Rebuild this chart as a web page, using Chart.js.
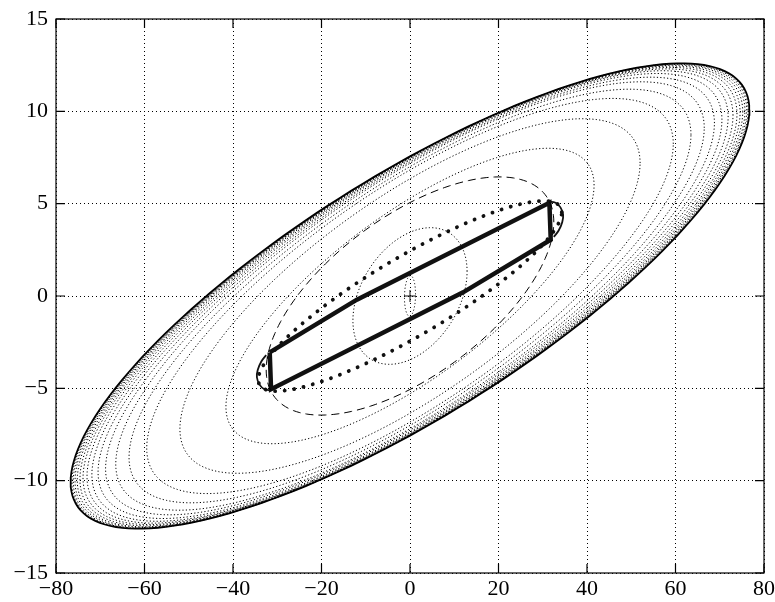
<!DOCTYPE html>
<html lang="en">
<head>
  <meta charset="UTF-8">
  <title>Ellipsoidal sets</title>
  <script src="https://cdn.jsdelivr.net/npm/chart.js"></script>
  <style>
    body { margin: 0; background: #fff; }
    #wrap { width: 775px; height: 602px; position: relative; }
  </style>
</head>
<body>
  <div id="wrap"><canvas id="setsChart"></canvas></div>

  <script>
    // axis ticks
    const xTickValues = [-80, -60, -40, -20, 0, 20, 40, 60, 80];
    const yTickValues = [-15, -10, -5, 0, 5, 10, 15];

    // nested dotted ellipses: half-width in x, half-height in y, correlation
    const dottedSx  = [1.25, 12.9, 41.6, 52, 59.5, 63.5, 66.5, 68.8, 70.5, 71.9, 73.0, 73.9, 74.6, 75.2, 75.7, 76.1, 76.4];
    const dottedSy  = [1.1, 3.7, 8.0, 9.6, 10.7, 11.2, 11.6, 11.85, 12.05, 12.2, 12.3, 12.38, 12.45, 12.5, 12.54, 12.57, 12.59];
    const dottedRho = [0.08, 0.36, 0.75, 0.75, 0.77, 0.78, 0.785, 0.79, 0.792, 0.794, 0.795, 0.796, 0.797, 0.798, 0.799, 0.8, 0.8];

    // limit ellipse (solid), dashed ellipse, heavy dotted ellipse
    const outerEllipse  = [76.7, 12.6, 0.8];
    const dashedEllipse = [32.5, 6.45, 0.62];
    const heavyEllipse  = [34.3, 5.15, 0.88];

    // heavy polygon
    const polyX = [-31.7, -12, 31.5, 31.8, 12, -31.4, -31.7];
    const polyY = [-3.05, -0.2, 5.05, 3.05, 0.2, -5.05, -3.05];

    // thin end arcs
    const rightArcX = [31.3, 32.9, 34.0, 34.6, 34.4, 33.6, 32.5];
    const rightArcY = [5.1, 5.05, 4.8, 4.4, 4.0, 3.55, 3.2];
    const leftArcX  = [-31.3, -32.9, -34.0, -34.6, -34.4, -33.6, -32.5];
    const leftArcY  = [-5.1, -5.05, -4.8, -4.4, -4.0, -3.55, -3.2];

    const centerMark = [{ x: 0, y: 0 }];

    function ellipsePoints(sx, sy, rho) {
      const pts = [];
      const k = Math.sqrt(1 - rho * rho);
      for (let i = 0; i <= 180; i++) {
        const t = i / 180 * 2 * Math.PI;
        pts.push({ x: sx * Math.cos(t), y: sy * (rho * Math.cos(t) + k * Math.sin(t)) });
      }
      return pts;
    }

    function zipXY(xs, ys) {
      return xs.map((x, i) => ({ x: x, y: ys[i] }));
    }

    const lineBase = { showLine: true, pointRadius: 0, fill: false, tension: 0 };

    const datasets = [];
    for (let i = 0; i < dottedSx.length; i++) {
      datasets.push(Object.assign({}, lineBase, {
        data: ellipsePoints(dottedSx[i], dottedSy[i], dottedRho[i]),
        borderColor: '#000',
        borderWidth: 1,
        borderDash: [1.2, 2.2]
      }));
    }
    datasets.push(Object.assign({}, lineBase, {
      data: ellipsePoints(...outerEllipse),
      borderColor: '#000',
      borderWidth: 1.8
    }));
    datasets.push(Object.assign({}, lineBase, {
      data: ellipsePoints(...dashedEllipse),
      borderColor: '#000',
      borderWidth: 1,
      borderDash: [8, 5]
    }));
    datasets.push(Object.assign({}, lineBase, {
      data: ellipsePoints(...heavyEllipse),
      borderColor: '#111',
      borderWidth: 3.8,
      borderCapStyle: 'round',
      borderDash: [0.1, 9.5]
    }));
    [zipXY(rightArcX, rightArcY), zipXY(leftArcX, leftArcY)].forEach(arc => {
      datasets.push(Object.assign({}, lineBase, {
        data: arc,
        borderColor: '#111',
        borderWidth: 1.8,
        tension: 0.4
      }));
    });
    datasets.push(Object.assign({}, lineBase, {
      data: zipXY(polyX, polyY),
      borderColor: '#111',
      borderWidth: 4.5,
      borderJoinStyle: 'miter'
    }));
    datasets.push({
      data: centerMark,
      showLine: false,
      pointStyle: 'cross',
      pointRadius: 6,
      borderColor: '#111',
      borderWidth: 1
    });

    const fmt = v => (v < 0 ? '\u2212' + Math.abs(v) : String(v));

    // box and inward tick marks
    const frame = {
      id: 'frame',
      afterDraw(chart) {
        const { ctx, chartArea: a, scales } = chart;
        const len = 9;
        ctx.save();
        ctx.strokeStyle = '#000';
        ctx.lineWidth = 1.2;
        ctx.beginPath();
        xTickValues.forEach(v => {
          const px = scales.x.getPixelForValue(v);
          ctx.moveTo(px, a.bottom); ctx.lineTo(px, a.bottom - len);
          ctx.moveTo(px, a.top); ctx.lineTo(px, a.top + len);
        });
        yTickValues.forEach(v => {
          const py = scales.y.getPixelForValue(v);
          ctx.moveTo(a.left, py); ctx.lineTo(a.left + len, py);
          ctx.moveTo(a.right, py); ctx.lineTo(a.right - len, py);
        });
        ctx.stroke();
        ctx.strokeRect(a.left, a.top, a.right - a.left, a.bottom - a.top);
        ctx.restore();
      }
    };

    const tickFont = { family: "'Liberation Serif', 'Times New Roman', serif", size: 22 };

    new Chart(document.getElementById('setsChart'), {
      type: 'scatter',
      data: { datasets: datasets },
      plugins: [frame],
      options: {
        responsive: true,
        maintainAspectRatio: false,
        animation: false,
        layout: { padding: { top: 19, right: 11, left: 0, bottom: 0 } },
        plugins: { legend: { display: false }, tooltip: { enabled: false } },
        scales: {
          x: {
            type: 'linear',
            min: -80,
            max: 80,
            afterBuildTicks: s => { s.ticks = xTickValues.map(v => ({ value: v })); },
            afterFit: s => { s.height = 29; s.paddingLeft = 0; s.paddingRight = 0; },
            ticks: { font: tickFont, color: '#000', padding: 3, maxRotation: 0, callback: fmt },
            grid: { color: '#000', lineWidth: 1, drawTicks: false },
            border: { display: false, dash: [1, 3] }
          },
          y: {
            type: 'linear',
            min: -15,
            max: 15,
            afterBuildTicks: s => { s.ticks = yTickValues.map(v => ({ value: v })); },
            afterFit: s => { s.width = 56; s.paddingTop = 0; s.paddingBottom = 0; },
            ticks: { font: tickFont, color: '#000', padding: 8, callback: fmt },
            grid: { color: '#000', lineWidth: 1, drawTicks: false },
            border: { display: false, dash: [1, 3] }
          }
        }
      }
    });
  </script>
</body>
</html>
